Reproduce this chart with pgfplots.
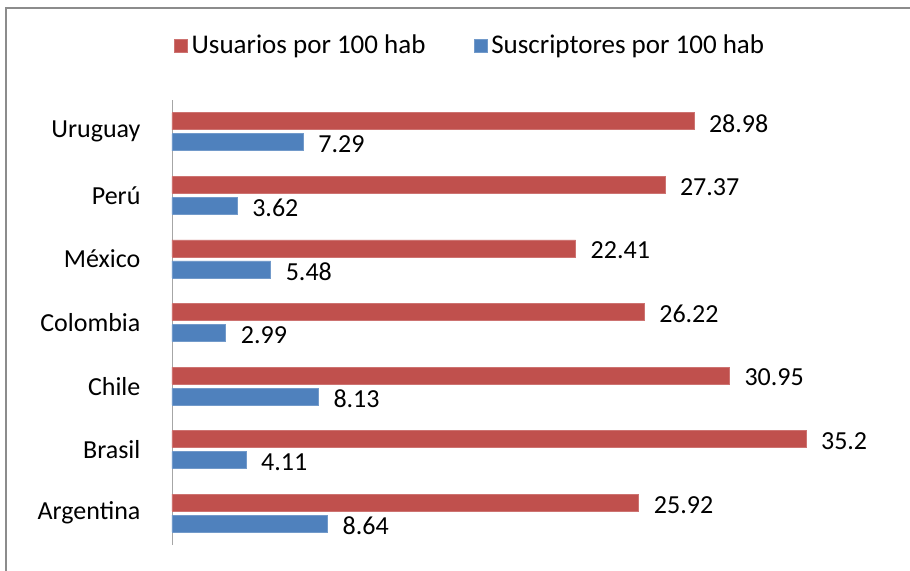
\documentclass[border=0pt]{standalone}
\usepackage{pgfplots}
\pgfplotsset{compat=1.18}
\usepackage{fontspec}
\setmainfont{Carlito}
\definecolor{cred}{HTML}{C0504D}
\definecolor{cblue}{HTML}{4F81BD}
\definecolor{cframe}{HTML}{8C8C8C}

\begin{document}
\begin{tikzpicture}[x=0.5pt,y=0.5pt]
% page = 910 x 570 px, axis box lower left at px (172,545)
\useasboundingbox (-172,-25) rectangle (738,545);
\clip (-172,-25) rectangle (738,545);
\draw[cframe, line width=0.8pt] (-166,-60) -- (-166,537) -- (800,537);
\begin{axis}[
  at={(0,0)}, anchor=south west,
  scale only axis,
  width=317pt, height=222.5pt,
  xmin=0, xmax=35.2,
  ymin=-0.5, ymax=6.5,
  axis x line=none,
  axis y line*=left,
  y axis line style={draw=gray!70, -},
  ytick={0,...,6},
  yticklabels={Argentina,Brasil,Chile,Colombia,México,Perú,Uruguay},
  ytick style={draw=none},
  yticklabel style={font=\fontsize{13}{15}\selectfont, xshift=-8pt},
  xbar, bar width=8.5pt,
  clip=false,
  nodes near coords,
  every node near coord/.append style={font=\fontsize{13}{15}\selectfont, anchor=west, xshift=4pt, yshift=-1pt, text=black},
  point meta=explicit symbolic,
  legend columns=2,
  legend style={draw=none, fill=none, at={(axis description cs:0.4716,1.1213)}, anchor=center,
    font=\fontsize{13.5}{15}\selectfont,
    /tikz/every even column/.append style={column sep=22pt}},
  legend image code/.code={\fill (-2pt,-3.2pt) rectangle (4.5pt,3.2pt);},
]
\addplot[bar shift=5.25pt, fill=cred, draw=cred!80!white] coordinates {
  (25.92,0) [25.92] (35.2,1) [35.2] (30.95,2) [30.95] (26.22,3) [26.22]
  (22.41,4) [22.41] (27.37,5) [27.37] (28.98,6) [28.98]};
\addplot[bar shift=-5.25pt, fill=cblue, draw=cblue!80!white] coordinates {
  (8.64,0) [8.64] (4.11,1) [4.11] (8.13,2) [8.13] (2.99,3) [2.99]
  (5.48,4) [5.48] (3.62,5) [3.62] (7.29,6) [7.29]};
\legend{Usuarios por 100 hab, Suscriptores por 100 hab}
\end{axis}
\end{tikzpicture}
\end{document}
